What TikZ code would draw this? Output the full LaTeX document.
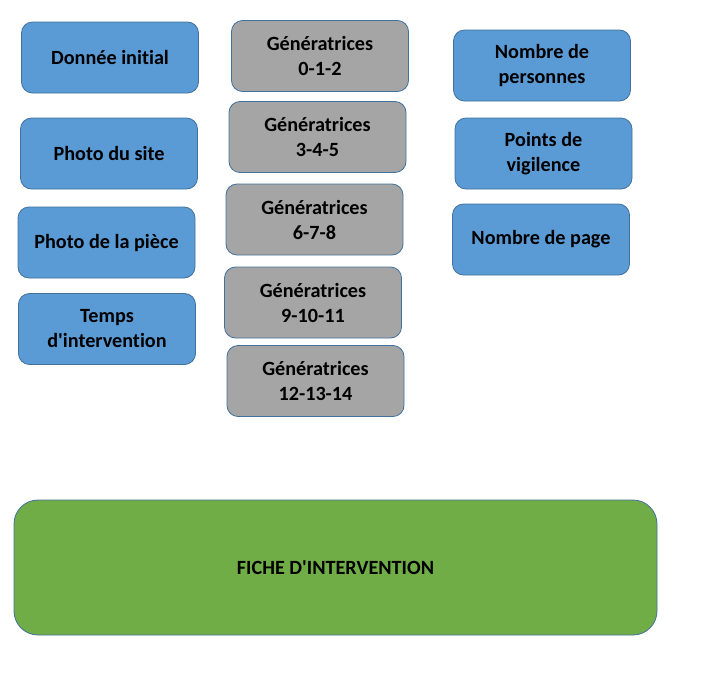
\documentclass[tikz,border=0pt]{standalone}
\usepackage{fontspec}
\setmainfont{Carlito}[Ligatures={TeXOff,NoCommon}]
\begin{document}
\begin{tikzpicture}[x=1pt,y=-1pt,
  box/.style={draw=bordc, line width=0.8pt, rounded corners=11pt, inner sep=0pt,
    align=center, font=\bfseries\fontsize{20.2}{25}\selectfont, text=black},
  bluebox/.style={box, fill=blueb, minimum width=177pt, minimum height=71pt},
  graybox/.style={box, fill=grayb, minimum width=177pt, minimum height=71pt},
  greenbox/.style={box, fill=greenb, rounded corners=24pt, minimum width=643pt, minimum height=135pt}]
\definecolor{blueb}{HTML}{5B9BD5}
\definecolor{grayb}{HTML}{A5A5A5}
\definecolor{greenb}{HTML}{70AD47}
\definecolor{bordc}{HTML}{41719C}
\useasboundingbox (0,0) rectangle (705,675);
\node[bluebox] (donnee) at (110,57.5) {Donnée initial};
\node[bluebox] (site) at (109,153.5) {Photo du site};
\node[bluebox] (piece) at (106.5,242.5) {Photo de la pièce};
\node[bluebox] (temps) at (107,329) {Temps\\d'intervention};
\node[graybox] (g1) at (320,56) {Génératrices\\0-1-2};
\node[graybox] (g2) at (317.5,137) {Génératrices\\3-4-5};
\node[graybox] (g3) at (314.5,219.5) {Génératrices\\6-7-8};
\node[graybox] (g4) at (313,302.5) {Génératrices\\9-10-11};
\node[graybox] (g5) at (315.5,381) {Génératrices\\12-13-14};
\node[bluebox] (personnes) at (542,65.5) {Nombre de\\personnes};
\node[bluebox] (vigilence) at (543.5,153.5) {Points de\\vigilence};
\node[bluebox] (page) at (541,239.5) {Nombre de page};
\node[greenbox] (fiche) at (335.5,567.5) {FICHE D'INTERVENTION};
\end{tikzpicture}
\end{document}
